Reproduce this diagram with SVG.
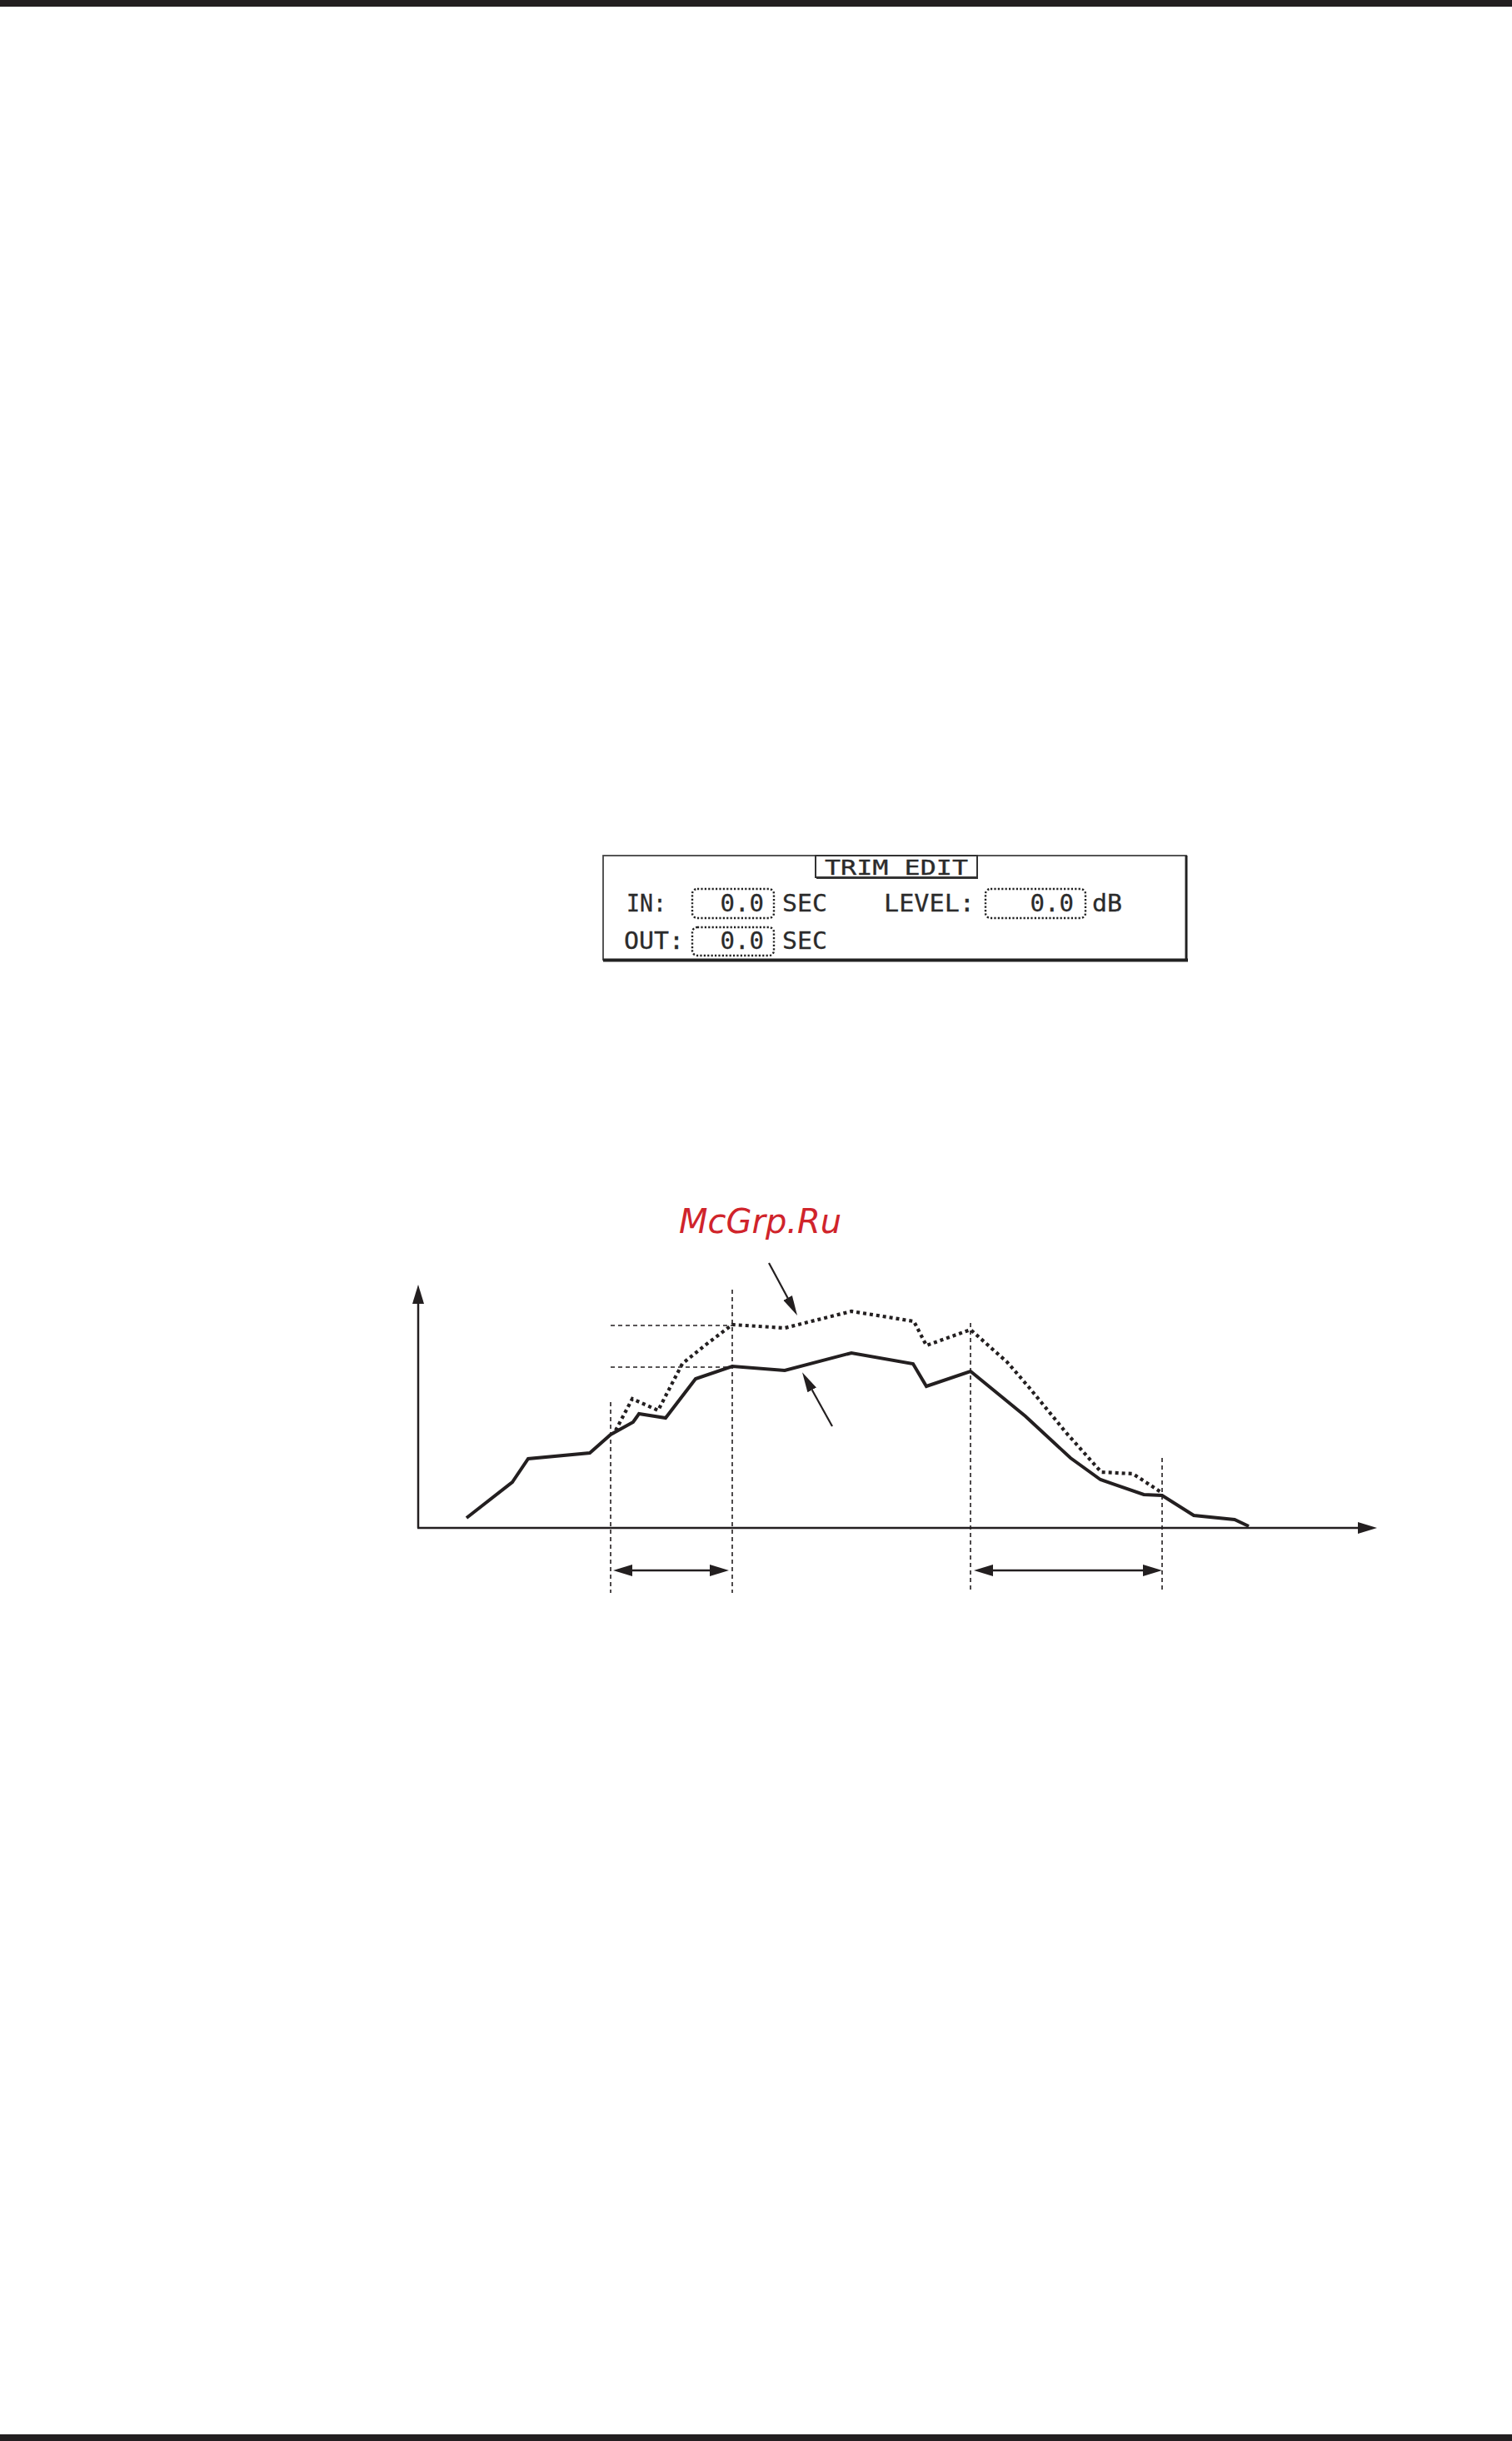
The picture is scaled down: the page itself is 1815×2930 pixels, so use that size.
<svg xmlns="http://www.w3.org/2000/svg" width="1815" height="2930" viewBox="0 0 1815 2930">
<style>
.lcd{font-family:"DejaVu Sans Mono","Liberation Mono",monospace;font-size:29px;fill:#2b2b2b;stroke:#2b2b2b;stroke-width:0.3;}
.dotbox{fill:none;stroke:#222;stroke-width:2.4;stroke-dasharray:2.2 2.2;}
.axis{fill:none;stroke:#231f20;stroke-width:2.5;}
.guide{fill:none;stroke:#231f20;stroke-width:1.6;stroke-dasharray:5 4;}
.solid{fill:none;stroke:#231f20;stroke-width:4;stroke-linejoin:miter;}
.dotted{fill:none;stroke:#231f20;stroke-width:4.2;stroke-dasharray:4 4;}
.ptr{fill:none;stroke:#231f20;stroke-width:2.2;}
</style>
<defs>
<marker id="ah" markerUnits="userSpaceOnUse" markerWidth="24" markerHeight="16" viewBox="0 0 23 16" refX="0" refY="8" orient="auto-start-reverse">
<path d="M0,1 L23,8 L0,15 Z" fill="#231f20"/>
</marker>
<marker id="ahs" markerUnits="userSpaceOnUse" markerWidth="24" markerHeight="14" viewBox="0 0 24 14" refX="0" refY="7" orient="auto">
<path d="M0,1 L24,7 L0,13 Z" fill="#231f20"/>
</marker>
</defs>
<rect width="1815" height="2930" fill="#ffffff"/>
<g id="page-bars">
<rect x="0" y="0" width="1815" height="8" fill="#231f20"/>
<rect x="0" y="2922" width="1815" height="8" fill="#231f20"/>
</g>
<g id="lcd-trim-edit">
<rect x="724" y="1027" width="700" height="125" fill="#fff" stroke="#444" stroke-width="1.8"/>
<line x1="724" y1="1152.5" x2="1426" y2="1152.5" stroke="#222" stroke-width="4"/>
<line x1="1424" y1="1027" x2="1424" y2="1154" stroke="#222" stroke-width="3"/>
<rect x="979" y="1027" width="194" height="26" fill="#fff" stroke="#333" stroke-width="2"/>
<line x1="980" y1="1054" x2="1174" y2="1054" stroke="#333" stroke-width="2"/>
<text x="990" y="1050" class="lcd" style="font-size:25px" textLength="172" lengthAdjust="spacingAndGlyphs">TRIM EDIT</text>
<text x="752" y="1094" class="lcd" textLength="48" lengthAdjust="spacingAndGlyphs">IN:</text>
<rect x="831" y="1067" width="98" height="35" rx="6" class="dotbox"/>
<text x="917" y="1094" class="lcd" text-anchor="end">0.0</text>
<text x="939" y="1094" class="lcd" textLength="54" lengthAdjust="spacingAndGlyphs">SEC</text>
<text x="1061" y="1094" class="lcd" textLength="109" lengthAdjust="spacingAndGlyphs">LEVEL:</text>
<rect x="1183" y="1067" width="120" height="35" rx="6" class="dotbox"/>
<text x="1289" y="1094" class="lcd" text-anchor="end">0.0</text>
<text x="1311" y="1094" class="lcd" textLength="36" lengthAdjust="spacingAndGlyphs">dB</text>
<text x="749" y="1139" class="lcd" textLength="72" lengthAdjust="spacingAndGlyphs">OUT:</text>
<rect x="831" y="1113" width="98" height="34" rx="6" class="dotbox"/>
<text x="917" y="1139" class="lcd" text-anchor="end">0.0</text>
<text x="939" y="1139" class="lcd" textLength="54" lengthAdjust="spacingAndGlyphs">SEC</text>
</g>
<g id="watermark">
<text x="815" y="1480" font-family="DejaVu Sans, sans-serif" font-style="oblique" font-size="40" fill="#d0242b">McGrp.Ru</text>
</g>
<g id="graph">
<path class="guide" d="M733,1683 V1912 M879,1548 V1912 M1165,1588 V1912 M1395,1750 V1912"/>
<path class="guide" d="M733,1591 H879 M733,1641 H879"/>
<path class="solid" d="M560,1822 L615,1779 L634,1751 L708,1744 L733,1722 L760,1707 L767,1697 L799,1702 L835,1655 L879,1640 L942,1645 L1022,1624 L1096,1637 L1112,1664 L1165,1646 L1231,1700 L1285,1750 L1321,1776 L1373,1794 L1395,1795 L1433,1819 L1482,1824 L1499,1832"/>
<path class="dotted" d="M739,1717 L759,1679 L790,1693 L819,1637 L846,1615 L879,1590 L942,1594 L1022,1574 L1097,1586 L1112,1615 L1165,1596 L1209,1635 L1235,1665 L1280,1720 L1322,1767 L1360,1769 L1395,1792"/>
</g>
<g id="connectors">
<line class="axis" x1="502" y1="1834" x2="502" y2="1565" marker-end="url(#ah)"/>
<line class="axis" x1="501" y1="1834" x2="1630" y2="1834" marker-end="url(#ah)"/>
<line class="axis" x1="759" y1="1885" x2="852" y2="1885" marker-start="url(#ah)" marker-end="url(#ah)"/>
<line class="axis" x1="1192" y1="1885" x2="1372" y2="1885" marker-start="url(#ah)" marker-end="url(#ah)"/>
<line class="ptr" x1="923" y1="1516" x2="945.6" y2="1557.9" marker-end="url(#ahs)"/>
<line class="ptr" x1="999" y1="1712" x2="974.7" y2="1668.3" marker-end="url(#ahs)"/>
</g>
</svg>
